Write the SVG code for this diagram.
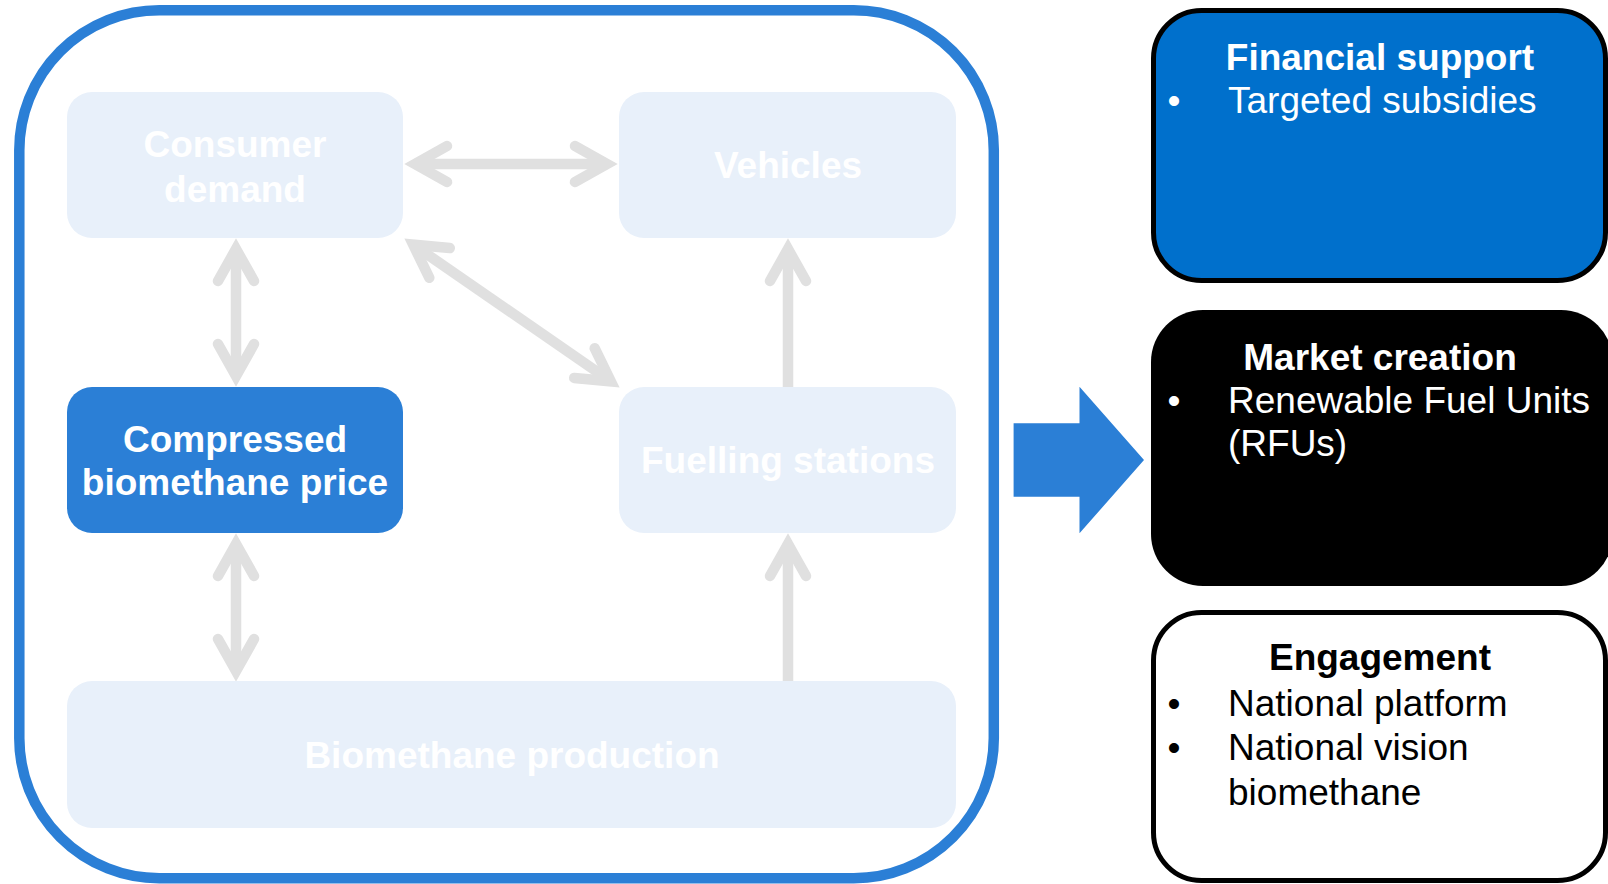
<svg xmlns="http://www.w3.org/2000/svg" width="1608" height="884" viewBox="0 0 1608 884">
  <style>
    .lbl { font-family: "Liberation Sans", Arial, sans-serif; font-size: 37px; }
    .b { font-weight: bold; }
    .light { fill: #E8F0FA; }
    .lt { fill: #FFFFFF; text-anchor: middle; }
    .conn { stroke: #E0E0E0; stroke-width: 10.5; fill: none; }
  </style>
  <defs>
    <marker id="chev" markerUnits="userSpaceOnUse" orient="auto-start-reverse" refX="0" refY="0" markerWidth="60" markerHeight="60" viewBox="-50 -30 60 60" overflow="visible">
      <polyline points="-32,-18 0,0 -32,18" fill="none" stroke="#E0E0E0" stroke-width="10.5" stroke-linecap="round" stroke-linejoin="miter" stroke-miterlimit="10"/>
    </marker>
  </defs>

  <rect id="frame" x="19.3" y="10.3" width="974.5" height="868" rx="140" ry="140" fill="#FFFFFF" stroke="#2B7FD6" stroke-width="10.5"/>

  <g id="connectors">
    <line class="conn" x1="415" y1="164" x2="607" y2="164" marker-start="url(#chev)" marker-end="url(#chev)"/>
    <line class="conn" x1="236" y1="249" x2="236" y2="376" marker-start="url(#chev)" marker-end="url(#chev)"/>
    <line class="conn" x1="413.2" y1="244.7" x2="610.8" y2="381.3" marker-start="url(#chev)" marker-end="url(#chev)"/>
    <line class="conn" x1="788" y1="387" x2="788" y2="249" marker-end="url(#chev)"/>
    <line class="conn" x1="236" y1="544" x2="236" y2="671" marker-start="url(#chev)" marker-end="url(#chev)"/>
    <line class="conn" x1="788" y1="686" x2="788" y2="544" marker-end="url(#chev)"/>
  </g>

  <g id="consumer-demand">
    <rect class="light" x="67" y="92" width="336" height="146" rx="25"/>
    <text class="lbl b lt" x="235" y="157">Consumer</text>
    <text class="lbl b lt" x="235" y="202">demand</text>
  </g>
  <g id="vehicles">
    <rect class="light" x="619" y="92" width="337" height="146" rx="25"/>
    <text class="lbl b lt" x="788" y="178">Vehicles</text>
  </g>
  <g id="compressed-price">
    <rect x="67" y="387" width="336" height="146" rx="25" fill="#2B7FD6"/>
    <text class="lbl b lt" x="235" y="452">Compressed</text>
    <text class="lbl b lt" x="235" y="495">biomethane price</text>
  </g>
  <g id="fuelling-stations">
    <rect class="light" x="619" y="387" width="337" height="146" rx="25"/>
    <text class="lbl b lt" x="788" y="473">Fuelling stations</text>
  </g>
  <g id="biomethane-production">
    <rect class="light" x="67" y="681" width="889" height="147" rx="25"/>
    <text class="lbl b lt" x="512" y="768">Biomethane production</text>
  </g>

  <g id="block-arrow">
    <polygon points="1013.6,423.3 1079.5,423.3 1079.5,386.7 1144,460 1079.5,533.3 1079.5,496.7 1013.6,496.7" fill="#2B7FD6"/>
  </g>

  <g id="financial-support">
    <rect x="1153.5" y="10.5" width="452" height="270" rx="48" fill="#0070CC" stroke="#000000" stroke-width="5"/>
    <text class="lbl b" x="1380" y="70" fill="#FFFFFF" text-anchor="middle">Financial support</text>
    <text class="lbl" x="1174" y="113" fill="#FFFFFF" text-anchor="middle">•</text>
    <text class="lbl" x="1228" y="113" fill="#FFFFFF">Targeted subsidies</text>
  </g>
  <g id="market-creation">
    <rect x="1151" y="310" width="462" height="276" rx="52" fill="#000000"/>
    <text class="lbl b" x="1380" y="370" fill="#FFFFFF" text-anchor="middle">Market creation</text>
    <text class="lbl" x="1174" y="413" fill="#FFFFFF" text-anchor="middle">•</text>
    <text class="lbl" x="1228" y="413" fill="#FFFFFF">Renewable Fuel Units</text>
    <text class="lbl" x="1228" y="456" fill="#FFFFFF">(RFUs)</text>
  </g>
  <g id="engagement">
    <rect x="1153.5" y="612.5" width="452" height="268" rx="48" fill="#FFFFFF" stroke="#000000" stroke-width="5"/>
    <text class="lbl b" x="1380" y="670" fill="#000000" text-anchor="middle">Engagement</text>
    <text class="lbl" x="1174" y="716" fill="#000000" text-anchor="middle">•</text>
    <text class="lbl" x="1228" y="716" fill="#000000">National platform</text>
    <text class="lbl" x="1174" y="760" fill="#000000" text-anchor="middle">•</text>
    <text class="lbl" x="1228" y="760" fill="#000000">National vision</text>
    <text class="lbl" x="1228" y="805" fill="#000000">biomethane</text>
  </g>
</svg>
